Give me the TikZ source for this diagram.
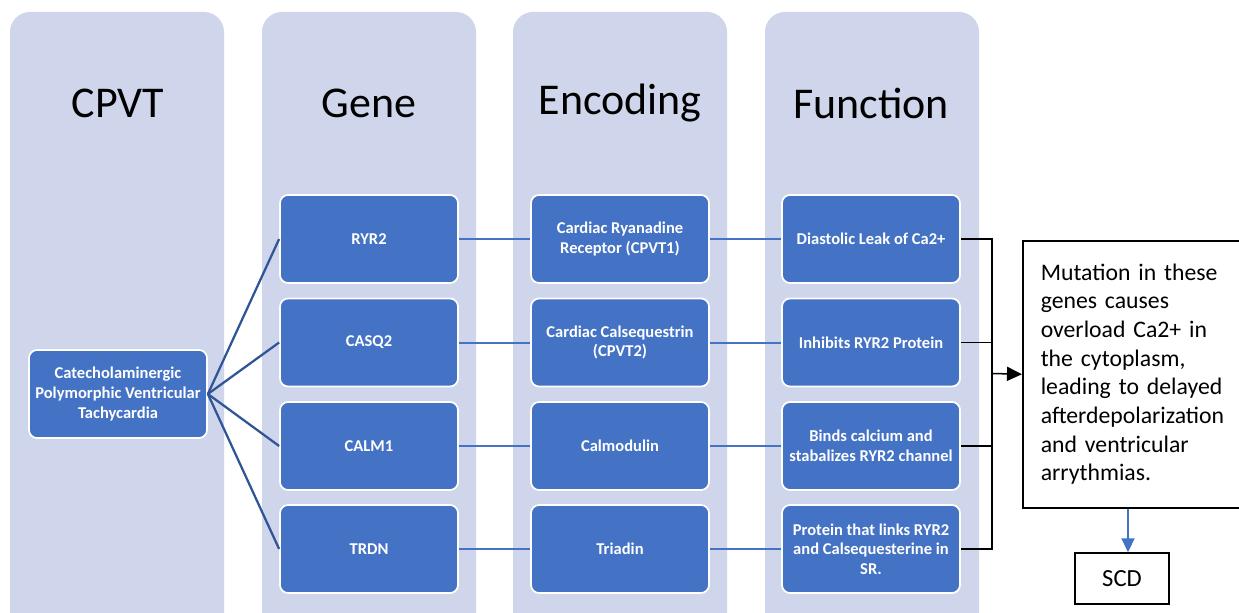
\documentclass[tikz,border=0pt]{standalone}
\usepackage{fontspec}
\setmainfont{Carlito}
\usetikzlibrary{arrows.meta}
\definecolor{colbg}{HTML}{CFD5EA}
\definecolor{boxblue}{HTML}{4472C4}
\definecolor{fanblue}{HTML}{2F5597}

\begin{document}
\begin{tikzpicture}[x = 0.2mm, y = -0.2mm,
	column/.style = {fill = colbg, rounded corners = 4mm},
	coltitle/.style = {font = \fontsize{25}{29}\selectfont},
	bluebox/.style = {draw = white, line width = 0.35mm, fill = boxblue, rounded corners = 1.6mm,
		text = white, font = \fontsize{9.4}{11.2}\selectfont\bfseries, align = center,
		minimum width = 35.6mm, minimum height = 17.6mm, inner sep = 0pt},
	fan/.style = {fanblue, line width = 0.45mm},
	link/.style = {boxblue, line width = 0.4mm},
	bus/.style = {black, line width = 0.3mm},
	note/.style = {draw = black, line width = 0.3mm, fill = white, font = \fontsize{13.5}{16.3}\selectfont,
		align = left, text width = 38.4mm, minimum height = 53.4mm, inner xsep = 3.6mm, inner ysep = 0pt}
]
	\clip ( 0, 0 ) rectangle ( 1239, 613 );
	\fill[white] ( 0, 0 ) rectangle ( 1239, 613 );

	% the four columns
	\fill[column] ( 10, 12 ) rectangle ( 224, 650 );
	\fill[column] ( 262, 12 ) rectangle ( 476, 650 );
	\fill[column] ( 513, 12 ) rectangle ( 727, 650 );
	\fill[column] ( 765, 12 ) rectangle ( 979, 650 );

	\node[coltitle] (tcpvt) at ( 118, 103 ) {CPVT};
	\node[coltitle] (tgene) at ( 369, 103 ) {Gene};
	\node[coltitle] (tenc) at ( 620, 103 ) {Encoding};
	\node[coltitle] (tfun) at ( 871, 103 ) {Function};

	% boxes
	\node[bluebox] (cpvt) at ( 118, 394 ) {Catecholaminergic\\Polymorphic Ventricular\\Tachycardia};

	\node[bluebox] (ryr2) at ( 369, 239 ) {RYR2};
	\node[bluebox] (casq2) at ( 369, 342.5 ) {CASQ2};
	\node[bluebox] (calm1) at ( 369, 446 ) {CALM1};
	\node[bluebox] (trdn) at ( 369, 549 ) {TRDN};

	\node[bluebox] (enc1) at ( 620, 239 ) {Cardiac Ryanadine\\Receptor (CPVT1)};
	\node[bluebox] (enc2) at ( 620, 342.5 ) {Cardiac Calsequestrin\\(CPVT2)};
	\node[bluebox] (enc3) at ( 620, 446 ) {Calmodulin};
	\node[bluebox] (enc4) at ( 620, 549 ) {Triadin};

	\node[bluebox] (fun1) at ( 871, 239 ) {Diastolic Leak of Ca2+};
	\node[bluebox] (fun2) at ( 871, 342.5 ) {Inhibits RYR2 Protein};
	\node[bluebox] (fun3) at ( 871, 446 ) {Binds calcium and\\stabalizes RYR2 channel};
	\node[bluebox] (fun4) at ( 871, 549 ) {Protein that links RYR2\\and Calsequesterine in\\SR.};

	\node[note, anchor = north west] (note) at ( 1022, 240 ) {Mutation in these\\genes causes\\overload Ca2+ in\\the cytoplasm,\\leading to delayed\\afterdepolarization\\and ventricular\\arrythmias.};
	\node[draw = black, line width = 0.3mm, minimum width = 18.8mm, minimum height = 10.2mm,
		font = \fontsize{14}{16}\selectfont] (scd) at ( 1122, 578.5 ) {SCD};

	% connectors
	\draw[fan] (cpvt.east) -- (ryr2.west);
	\draw[fan] (cpvt.east) -- (casq2.west);
	\draw[fan] (cpvt.east) -- (calm1.west);
	\draw[fan] (cpvt.east) -- (trdn.west);

	\draw[link] (ryr2) -- (enc1) -- (fun1);
	\draw[link] (casq2) -- (enc2) -- (fun2);
	\draw[link] (calm1) -- (enc3) -- (fun3);
	\draw[link] (trdn) -- (enc4) -- (fun4);

	\coordinate (bus) at ( 992, 373.5 );
	\draw[bus] (fun1.east) -| (bus) |- (fun4.east);
	\draw[bus] (fun2.east) -- (fun2.east -| bus);
	\draw[bus] (fun3.east) -- (fun3.east -| bus);
	\draw[bus, -{Triangle[width = 2.8mm, length = 3mm]}] (bus) -- (note.west);
	\draw[link, -{Triangle[width = 2.6mm, length = 2.8mm]}] (note.south -| scd.north) ++( 6, 0 ) coordinate (down) -- (down |- scd.north);
\end{tikzpicture}
\end{document}
